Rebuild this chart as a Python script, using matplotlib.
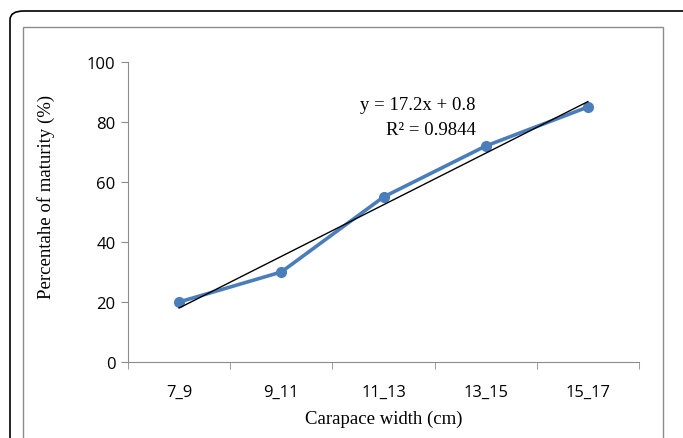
import matplotlib
matplotlib.use("Agg")
import matplotlib.pyplot as plt
from matplotlib.patches import FancyBboxPatch, Rectangle
import numpy as np

categories = ["7_9", "9_11", "11_13", "13_15", "15_17"]
maturity = [20, 30, 55, 72, 85]
slope, intercept = 17.2, 0.8
yticks = [0, 20, 40, 60, 80, 100]

W, H = 683, 439
fig = plt.figure(figsize=(W / 100, H / 100), dpi=100)

# outer rounded frame and inner grey chart area border
fig.patches.append(FancyBboxPatch((10 / W, -0.1), 0.99 - 10 / W + 0.1, 1 - 12 / H + 0.1,
                                  boxstyle="round,pad=0,rounding_size=0.02",
                                  transform=fig.transFigure, fill=False,
                                  edgecolor="black", linewidth=1.2))
fig.patches.append(Rectangle((23 / W, -0.1), (663 - 23) / W, 1 - 28 / H + 0.1,
                             transform=fig.transFigure, fill=False,
                             edgecolor="#8c8c8c", linewidth=1.0))

ax = fig.add_axes([128 / W, 76 / H, 511 / W, 300 / H])
x = np.arange(1, len(categories) + 1)

ax.plot(x, maturity, color="#4a7ebb", linewidth=2.6, marker="o", markersize=7, zorder=3)
ax.plot([x[0], x[-1]], [slope * x[0] + intercept, slope * x[-1] + intercept],
        color="black", linewidth=1.0, zorder=4)

ax.set_xlim(0.5, len(categories) + 0.5)
ax.set_ylim(0, 100)
ax.set_yticks(yticks)
ax.set_xticks(x)
ax.set_xticklabels(categories)
ax.set_xticks(np.arange(0.5, len(categories) + 1), minor=True)
ax.tick_params(axis="x", which="major", length=0, pad=16)
ax.tick_params(axis="x", which="minor", length=5, color="#8c8c8c", direction="out")
ax.tick_params(axis="y", length=5, color="#8c8c8c", direction="out", pad=4)
for lbl in ax.get_xticklabels() + ax.get_yticklabels():
    lbl.set_fontfamily("Open Sans")
    lbl.set_fontsize(12)

for s in ["top", "right"]:
    ax.spines[s].set_visible(False)
for s in ["left", "bottom"]:
    ax.spines[s].set_color("#8c8c8c")

ax.set_xlabel("Carapace width (cm)", fontfamily="Liberation Serif", fontsize=13.5, labelpad=7)
ax.set_ylabel("Percentahe of maturity (%)", fontfamily="Liberation Serif", fontsize=13.5)
ax.yaxis.set_label_coords(-0.142, 0.553)

ax.text(3.9, 86, "y = 17.2x + 0.8", fontfamily="Liberation Serif", fontsize=13.5,
        ha="right", va="center")
ax.text(3.9, 77.5, "R² = 0.9844", fontfamily="Liberation Serif", fontsize=13.5,
        ha="right", va="center")

fig.savefig("out.png", dpi=100)
